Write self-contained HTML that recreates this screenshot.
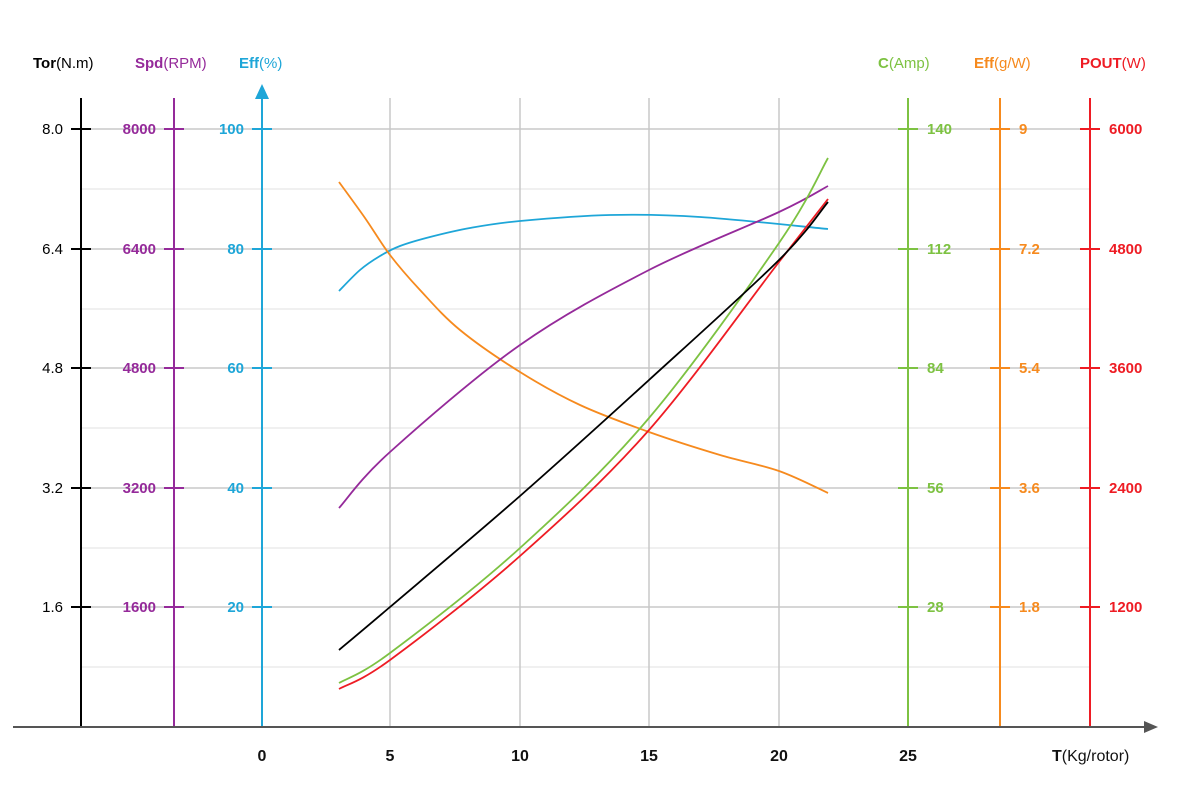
<!DOCTYPE html>
<html><head><meta charset="utf-8"><style>
html,body{margin:0;padding:0;background:#fff;}
svg{display:block;font-family:"Liberation Sans",sans-serif;}
</style></head><body>
<svg id="s" width="1200" height="800" viewBox="0 0 1200 800">
<g stroke="#ececec" stroke-width="1.5">
<line x1="82" y1="189" x2="1090" y2="189"/><line x1="82" y1="309" x2="1090" y2="309"/>
<line x1="82" y1="428" x2="1090" y2="428"/><line x1="82" y1="548" x2="1090" y2="548"/>
<line x1="82" y1="667" x2="1090" y2="667"/>
</g>
<g stroke="#c8c8c8" stroke-width="1.5">
<line x1="82" y1="129" x2="1090" y2="129"/><line x1="82" y1="249" x2="1090" y2="249"/>
<line x1="82" y1="368" x2="1090" y2="368"/><line x1="82" y1="488" x2="1090" y2="488"/>
<line x1="82" y1="607" x2="1090" y2="607"/>
<line x1="390" y1="98" x2="390" y2="727"/><line x1="520" y1="98" x2="520" y2="727"/>
<line x1="649" y1="98" x2="649" y2="727"/><line x1="779" y1="98" x2="779" y2="727"/>
</g>
<g stroke-width="2">
<line x1="81" y1="98" x2="81" y2="727" stroke="#000"/>
<line x1="174" y1="98" x2="174" y2="727" stroke="#952a9a"/>
<line x1="262" y1="92" x2="262" y2="727" stroke="#1ea6d8"/>
<line x1="908" y1="98" x2="908" y2="727" stroke="#7dc242"/>
<line x1="1000" y1="98" x2="1000" y2="727" stroke="#f68a1e"/>
<line x1="1090" y1="98" x2="1090" y2="727" stroke="#ee1c24"/>
</g>
<polygon points="262,84 255,99 269,99" fill="#1ea6d8"/>
<line x1="13" y1="727" x2="1146" y2="727" stroke="#555" stroke-width="2"/>
<polygon points="1158,727 1144,721 1144,733" fill="#555"/>
<g id="ticks" stroke-width="2"></g>
<g font-size="15" font-weight="bold">
<text x="33" y="68" fill="#000">Tor<tspan font-weight="normal">(N.m)</tspan></text>
<text x="135" y="68" fill="#952a9a">Spd<tspan font-weight="normal">(RPM)</tspan></text>
<text x="239" y="68" fill="#1ea6d8">Eff<tspan font-weight="normal">(%)</tspan></text>
<text x="878" y="68" fill="#7dc242">C<tspan font-weight="normal">(Amp)</tspan></text>
<text x="974" y="68" fill="#f68a1e">Eff<tspan font-weight="normal">(g/W)</tspan></text>
<text x="1080" y="68" fill="#ee1c24">POUT<tspan font-weight="normal">(W)</tspan></text>
</g>
<g id="labels" font-size="15"></g>
<g font-size="16" font-weight="bold" fill="#111" text-anchor="middle">
<text x="262" y="761">0</text><text x="390" y="761">5</text><text x="520" y="761">10</text>
<text x="649" y="761">15</text><text x="779" y="761">20</text><text x="908" y="761">25</text>
<text x="1052" y="761" text-anchor="start">T<tspan font-weight="normal">(Kg/rotor)</tspan></text>
</g>
<g id="curves" fill="none" stroke-width="1.8"></g>
</svg>
<script>
var NS="http://www.w3.org/2000/svg",ys=[129,249,368,488,607];
var axes=[[81,"#000",["8.0","6.4","4.8","3.2","1.6"],-1],[174,"#952a9a",["8000","6400","4800","3200","1600"],-1],
[262,"#1ea6d8",["100","80","60","40","20"],-1],[908,"#7dc242",["140","112","84","56","28"],1],
[1000,"#f68a1e",["9","7.2","5.4","3.6","1.8"],1],[1090,"#ee1c24",["6000","4800","3600","2400","1200"],1]];
function el(t,a,p,tx){var e=document.createElementNS(NS,t);for(var k in a)e.setAttribute(k,a[k]);if(tx)e.textContent=tx;document.getElementById(p).appendChild(e);}
axes.forEach(function(a){ys.forEach(function(y,i){
el("line",{x1:a[0]-10,x2:a[0]+10,y1:y,y2:y,stroke:a[1]},"ticks");
el("text",{x:a[3]<0?a[0]-18:a[0]+19,y:y+5,fill:a[1],"text-anchor":a[3]<0?"end":"start","font-weight":a[0]==81?"normal":"bold"},"labels",a[2][i]);});});
function path(p){var d="M"+p[0][0]+","+p[0][1];for(var i=0;i<p.length-1;i++){var p0=p[i-1]||p[i],p1=p[i],p2=p[i+1],p3=p[i+2]||p2;
d+=" C"+(p1[0]+(p2[0]-p0[0])/6)+","+(p1[1]+(p2[1]-p0[1])/6)+" "+(p2[0]-(p3[0]-p1[0])/6)+","+(p2[1]-(p3[1]-p1[1])/6)+" "+p2[0]+","+p2[1];}return d;}
var C=[["#1ea6d8",[[339,291],[360,270],[380,256],[400,246],[430,237],[470,228],[520,221],[610,215],[700,217],[828,229]]],
["#f68a1e",[[339,182],[365,218],[390,255],[420,290],[460,330],[520,372],[580,405],[649,432],[720,455],[779,471],[828,493]]],
["#952a9a",[[339,508],[390,452],[520,345],[649,270],[779,212],[828,186]]],
["#7dc242",[[339,683],[390,653],[520,548],[649,418],[779,243],[828,158]]],
["#ee1c24",[[339,689],[390,660],[520,556],[649,430],[779,262],[828,199]]],
["#000",[[339,650],[390,607],[520,496],[649,380],[779,260],[828,202]]]];
C.forEach(function(c){el("path",{d:path(c[1]),stroke:c[0]},"curves");});
</script>
</body></html>
